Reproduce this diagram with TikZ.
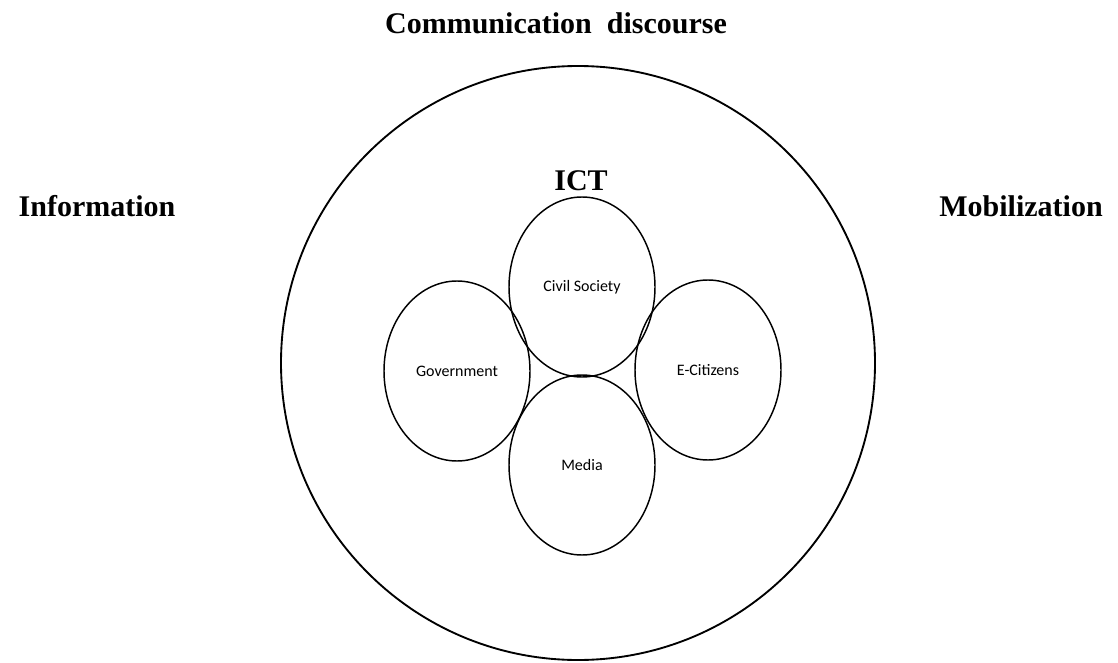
\documentclass[tikz,border=0pt]{standalone}
\usepackage{fontspec}
\setmainfont{Liberation Serif}
\newfontfamily\labelfont{Carlito}
\usetikzlibrary{shapes.geometric}
\begin{document}
\begin{tikzpicture}[x=0.75pt,y=-0.75pt,
  heading/.style={anchor=base,inner sep=0pt,font=\fontsize{22.5}{27}\selectfont\bfseries},
  actor/.style={draw,ellipse,line width=1.1pt,inner sep=0pt,
    minimum width=109.5pt,minimum height=135pt,
    font=\labelfont\fontsize{12}{14}\selectfont},
  outer/.style={draw,circle,line width=1.4pt,inner sep=0pt,minimum size=445.5pt}]
\useasboundingbox (0,0) rectangle (1118,663);
% outer ring
\node[outer] (ict) at (578,363) {};
% headings
\node[heading] (comm) at (556,34) {Communication~ discourse};
\node[heading] (info) at (97,217) {Information};
\node[heading] (mob) at (1021,217) {Mobilization};
\node[heading] (ictlabel) at (581,191) {ICT};
% the four actors
\node[actor] (civil) at (582,287) {Civil Society};
\node[actor] (gov) at (457,371) {Government};
\node[actor] (ecit) at (708,370) {E-Citizens};
\node[actor] (media) at (582,465) {Media};
\end{tikzpicture}
\end{document}
